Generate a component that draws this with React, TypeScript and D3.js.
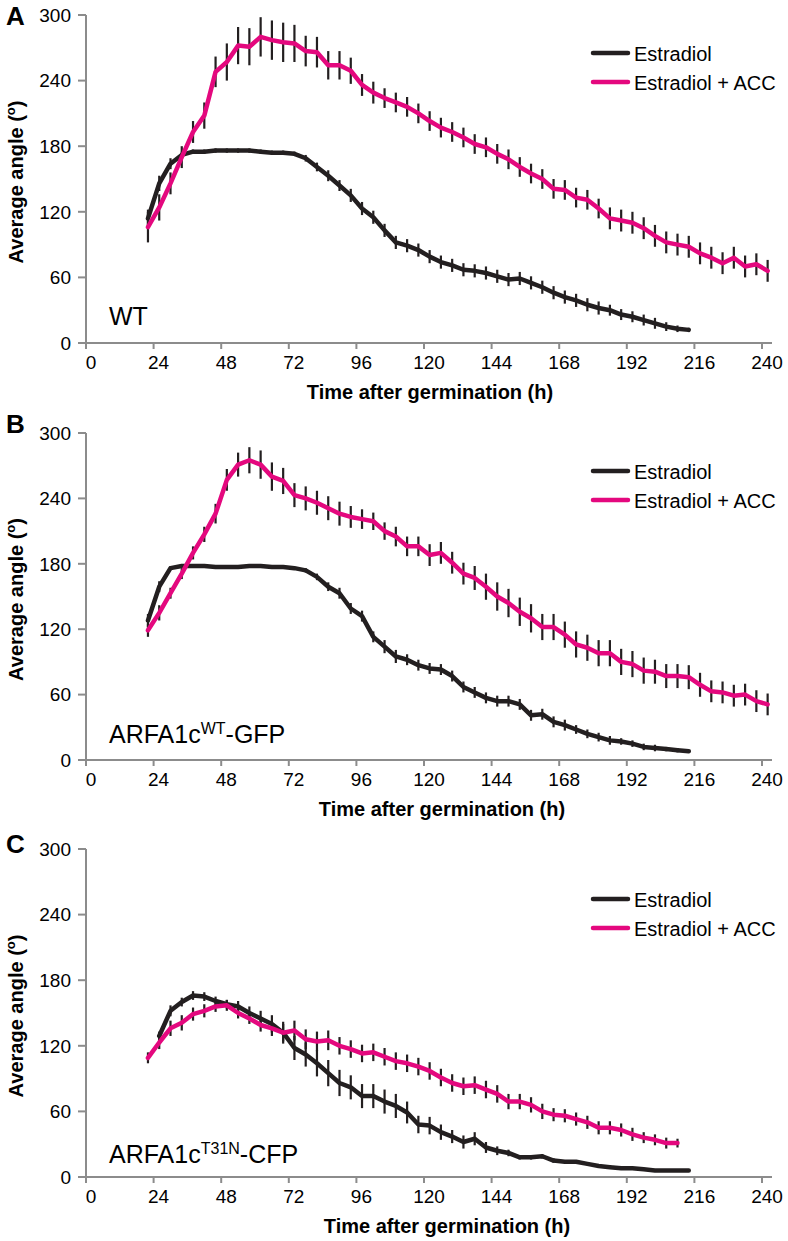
import React from "react";
import * as d3 from "d3";

// ---------- DATA ----------
const T_22_242 = [22,26,30,34,38,42,46,50,54,58,62,66,70,74,78,82,86,90,94,98,102,106,110,114,118,122,126,130,134,138,142,146,150,154,158,162,166,170,174,178,182,186,190,194,198,202,206,210,214,218,222,226,230,234,238,242];
const T_22_214 = [22,26,30,34,38,42,46,50,54,58,62,66,70,74,78,82,86,90,94,98,102,106,110,114,118,122,126,130,134,138,142,146,150,154,158,162,166,170,174,178,182,186,190,194,198,202,206,210,214];
const T_22_210 = [22,26,30,34,38,42,46,50,54,58,62,66,70,74,78,82,86,90,94,98,102,106,110,114,118,122,126,130,134,138,142,146,150,154,158,162,166,170,174,178,182,186,190,194,198,202,206,210];
const T_26_214 = [26,30,34,38,42,46,50,54,58,62,66,70,74,78,82,86,90,94,98,102,106,110,114,118,122,126,130,134,138,142,146,150,154,158,162,166,170,174,178,182,186,190,194,198,202,206,210,214];

// Panel A (WT)
const A_ACC = [106,124,146,170,193,208,248,257,272,271,280,277,275,274,267,266,254,254,249,236,229,224,220,216,210,203,197,193,188,182,179,173,168,161,155,150,141,140,133,131,123,114,112,110,105,98,92,90,88,82,78,73,78,70,72,66];
const A_ACC_ERR = [14,12,10,10,10,12,14,17,17,17,18,18,18,17,14,14,13,13,12,10,10,9,9,9,9,9,9,9,9,9,9,9,9,9,9,9,9,9,9,9,9,10,10,10,10,10,10,10,10,10,10,10,10,10,10,10];
const A_EST = [114,146,164,172,175,175,176,176,176,176,175,174,174,173,169,161,153,144,135,123,115,103,92,89,85,79,74,71,67,66,64,61,58,59,55,51,46,42,39,35,32,30,26,24,21,18,15,13,12];
const A_EST_ERR = [8,7,5,3,2,2,2,2,2,2,2,2,2,2,3,4,5,5,6,6,6,6,6,6,6,6,6,6,6,6,6,6,6,6,6,6,6,6,6,6,6,5,5,5,5,5,4,3,2];

// Panel B (ARFA1c WT-GFP)
const B_ACC = [119,135,153,171,190,207,226,257,271,275,271,260,256,243,240,236,231,226,223,221,219,210,205,196,196,188,190,181,171,167,159,150,144,136,130,122,122,115,106,103,98,98,90,88,82,81,77,77,76,69,63,62,59,60,54,51];
const B_ACC_ERR = [6,7,5,5,6,7,9,10,11,12,13,13,12,11,11,11,11,11,10,9,8,8,9,9,9,10,10,10,10,11,12,13,13,13,13,12,12,12,12,12,12,12,12,12,12,11,11,11,11,11,10,10,10,10,10,10];
const B_EST = [128,159,176,178,178,178,177,177,177,178,178,177,177,176,174,168,159,153,139,132,113,104,95,92,87,84,83,77,67,62,57,54,54,51,41,42,35,32,28,24,21,18,17,15,12,11,10,9,8];
const B_EST_ERR = [6,5,2,1,1,1,1,1,1,1,1,1,1,1,2,3,4,5,5,5,5,6,6,5,5,5,5,5,5,5,5,5,5,5,5,5,5,5,4,4,4,4,3,3,3,3,2,2,1];

// Panel C (ARFA1c T31N-CFP)
const C_ACC = [109,123,136,141,149,152,156,157,150,145,139,136,132,134,126,124,125,120,117,113,114,110,106,104,101,97,91,86,83,84,80,76,69,69,66,60,57,56,53,50,45,45,43,39,36,34,31,31];
const C_ACC_ERR = [5,6,7,7,6,6,5,5,5,5,6,7,8,9,9,9,9,8,8,8,8,8,8,8,8,8,8,8,8,8,8,8,7,7,7,7,6,6,6,6,6,6,6,6,5,5,5,4];
const C_EST = [129,152,160,166,165,161,158,156,150,145,140,132,118,112,104,95,86,82,74,74,69,65,59,48,47,41,37,32,35,27,24,22,18,18,19,15,14,14,12,10,9,8,8,7,6,6,6,6];
const C_EST_ERR = [4,5,4,4,4,4,4,5,6,7,8,10,11,11,12,12,12,11,11,11,11,11,10,8,8,7,6,6,6,5,4,3,2,2,2,2,1,1,1,1,1,1,1,1,1,1,1,1];

const X_TICKS = [0,24,48,72,96,120,144,168,192,216,240];
const Y_TICKS = [0,60,120,180,240,300];
const SERIES_NAMES = ["Estradiol", "Estradiol + ACC"];
const X_TITLE = "Time after germination (h)";

// ---------- STYLE ----------
const FONT = "'Liberation Sans', Arial, Helvetica, sans-serif";
const PINK = "#e4087e";
const BLACK = "#231f20";
const AXIS = "#8c8c8c";

type PanelProps = {
  top: number;
  bottom: number;
  letter: string;
  letterY: number;
  titleX: number;
  labelMain: string;
  labelSup?: string;
  labelEnd?: string;
  labelY: number;
  legendY: number;
  estT: number[];
  est: number[];
  estErr: number[];
  accT: number[];
  acc: number[];
  accErr: number[];
};

function Panel(p: PanelProps) {
  const x = d3.scaleLinear().domain([0, 240]).range([86, 762]);
  const y = d3.scaleLinear().domain([0, 300]).range([p.bottom, p.top]);
  const axisX = x(0);
  const line = d3
    .line<[number, number]>()
    .x((d) => x(d[0]))
    .y((d) => y(d[1]));
  const estPts: [number, number][] = p.estT.map((t, i) => [t, p.est[i]]);
  const accPts: [number, number][] = p.accT.map((t, i) => [t, p.acc[i]]);
  const cy = (p.top + p.bottom) / 2 + 3;

  const bars = (ts: number[], vals: number[], errs: number[], key: string) =>
    ts.map((t, i) => (
      <line
        key={key + i}
        x1={x(t)}
        x2={x(t)}
        y1={y(vals[i] - errs[i])}
        y2={y(vals[i] + errs[i])}
        stroke={BLACK}
        strokeWidth={2.2}
      />
    ));

  return (
    <g fontFamily={FONT}>
      <text x={6} y={p.letterY} fontSize={26} fontWeight="bold" fill="#000">
        {p.letter}
      </text>
      <line x1={axisX} x2={axisX} y1={p.top} y2={p.bottom} stroke={AXIS} strokeWidth={2} />
      {Y_TICKS.map((v) => (
        <g key={"y" + v}>
          <line x1={axisX - 8} x2={axisX} y1={y(v)} y2={y(v)} stroke={AXIS} strokeWidth={2} />
          <text x={axisX - 15} y={y(v)} dy="0.36em" textAnchor="end" fontSize={19} fill="#000">
            {v}
          </text>
        </g>
      ))}
      <line x1={axisX - 1} x2={772} y1={p.bottom} y2={p.bottom} stroke={AXIS} strokeWidth={2} />
      {X_TICKS.map((v) => (
        <g key={"x" + v}>
          <line x1={x(v)} x2={x(v)} y1={p.bottom} y2={p.bottom + 6} stroke={AXIS} strokeWidth={2} />
          <text x={x(v) + 5} y={p.bottom + 26} textAnchor="middle" fontSize={19} fill="#000">
            {v}
          </text>
        </g>
      ))}
      <text x={p.titleX} y={p.bottom + 56} textAnchor="middle" fontSize={20} fontWeight="bold" fill="#000">
        {X_TITLE}
      </text>
      <text
        transform={`translate(23,${cy}) rotate(-90)`}
        textAnchor="middle"
        fontSize={20}
        fontWeight="bold"
        fill="#000"
      >
        Average angle (<tspan fontSize={13} dy={-8}>o</tspan>
        <tspan dy={8}>)</tspan>
      </text>
      {bars(p.estT, p.est, p.estErr, "eb")}
      {bars(p.accT, p.acc, p.accErr, "ab")}
      <path d={line(estPts) || ""} fill="none" stroke={BLACK} strokeWidth={4.5} strokeLinejoin="round" strokeLinecap="round" />
      <path d={line(accPts) || ""} fill="none" stroke={PINK} strokeWidth={4.5} strokeLinejoin="round" strokeLinecap="round" />
      <text x={109} y={p.labelY} fontSize={25} fill="#000">
        {p.labelMain}
        {p.labelSup ? (
          <>
            <tspan fontSize={16} dy={-9}>{p.labelSup}</tspan>
            <tspan dy={9}>{p.labelEnd}</tspan>
          </>
        ) : null}
      </text>
      {SERIES_NAMES.map((name, i) => (
        <g key={name}>
          <line
            x1={593}
            x2={628}
            y1={p.legendY + i * 29}
            y2={p.legendY + i * 29}
            stroke={i === 0 ? BLACK : PINK}
            strokeWidth={4.5}
            strokeLinecap="round"
          />
          <text x={634} y={p.legendY + i * 29 + 7.5} fontSize={20} fill="#000">
            {name}
          </text>
        </g>
      ))}
    </g>
  );
}

export default function App() {
  return (
    <svg
      width={788}
      height={1241}
      viewBox="0 0 788 1241"
      style={{ position: "absolute", left: 0, top: 0, background: "#fff" }}
    >
      <rect width={788} height={1241} fill="#fff" />
      <Panel
        top={15}
        bottom={343}
        letter="A"
        letterY={25}
        titleX={430}
        labelMain="WT"
        labelY={325}
        legendY={53}
        estT={T_22_214}
        est={A_EST}
        estErr={A_EST_ERR}
        accT={T_22_242}
        acc={A_ACC}
        accErr={A_ACC_ERR}
      />
      <Panel
        top={433}
        bottom={760}
        letter="B"
        letterY={433}
        titleX={442}
        labelMain="ARFA1c"
        labelSup="WT"
        labelEnd="-GFP"
        labelY={743}
        legendY={471}
        estT={T_22_214}
        est={B_EST}
        estErr={B_EST_ERR}
        accT={T_22_242}
        acc={B_ACC}
        accErr={B_ACC_ERR}
      />
      <Panel
        top={849}
        bottom={1177}
        letter="C"
        letterY={853}
        titleX={447}
        labelMain="ARFA1c"
        labelSup="T31N"
        labelEnd="-CFP"
        labelY={1163}
        legendY={899}
        estT={T_26_214}
        est={C_EST}
        estErr={C_EST_ERR}
        accT={T_22_210}
        acc={C_ACC}
        accErr={C_ACC_ERR}
      />
    </svg>
  );
}
